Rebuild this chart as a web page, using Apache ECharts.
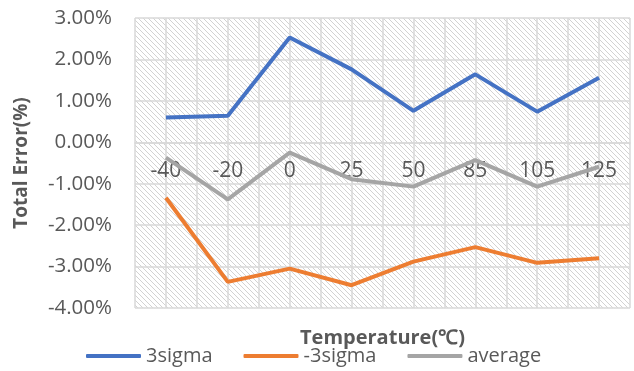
<!DOCTYPE html>
<html>
<head>
<meta charset="utf-8">
<script src="https://cdn.jsdelivr.net/npm/echarts@6/dist/echarts.min.js"></script>
<style>
  html, body { margin: 0; padding: 0; background: #ffffff; }
  #chart { width: 634px; height: 371px; }
</style>
</head>
<body>
<div id="chart"></div>
<script>
// Temperature points (°C)
const temperatures = ['-40', '-20', '0', '25', '50', '85', '105', '125'];
// Total error, in percent
const sigmaPlus  = [0.60, 0.64, 2.53, 1.76, 0.76, 1.64, 0.74, 1.56];
const sigmaMinus = [-1.34, -3.37, -3.05, -3.45, -2.88, -2.53, -2.91, -2.80];
const average    = [-0.37, -1.38, -0.25, -0.89, -1.07, -0.43, -1.07, -0.59];
const seriesNames = ['3sigma', '-3sigma', 'average'];
const yMin = -4, yMax = 3;

// Light downward-diagonal fill for the plot area
function hatchPattern() {
  const size = 5;
  const c = document.createElement('canvas');
  c.width = size; c.height = size;
  const ctx = c.getContext('2d');
  ctx.fillStyle = '#ffffff';
  ctx.fillRect(0, 0, size, size);
  ctx.fillStyle = '#d2d2d2';
  for (let i = 0; i < size; i++) ctx.fillRect(i, i, 1, 1);
  return { image: c, repeat: 'repeat' };
}

const font = '"Open Sans", "Liberation Sans", sans-serif';
const textColor = '#595959';
const gridColor = '#d9d9d9';

const chart = echarts.init(document.getElementById('chart'), null, { renderer: 'canvas' });
chart.setOption({
  animation: false,
  backgroundColor: '#ffffff',
  textStyle: { fontFamily: font },
  grid: {
    left: 135, right: 4, top: 18, bottom: 63,
    show: true, backgroundColor: hatchPattern(), borderWidth: 0
  },
  legend: {
    data: seriesNames,
    bottom: 0,
    left: 81,
    icon: 'roundRect',
    itemWidth: 55,
    itemHeight: 4,
    itemGap: 31,
    textStyle: { fontSize: 20, color: textColor, fontFamily: font }
  },
  xAxis: [
    {
      // temperature labels, sitting on the 0% line
      type: 'category',
      data: temperatures,
      boundaryGap: true,
      position: 'bottom',
      z: 1,
      axisLine: { onZero: false, lineStyle: { color: gridColor, width: 1.5 } },
      axisTick: { show: false },
      splitLine: { show: false },
      axisLabel: { color: textColor, fontSize: 21, margin: 18, fontFamily: font }
    },
    {
      // half-category grid lines and the x title
      type: 'value',
      position: 'bottom',
      min: 0, max: 16, interval: 1,
      axisLine: { show: false, onZero: false },
      axisTick: { show: false },
      axisLabel: { show: false },
      splitLine: { show: true, lineStyle: { color: gridColor, width: 1.5 } },
      name: 'Temperature(℃)',
      nameLocation: 'middle',
      nameGap: 20,
      nameTextStyle: { fontSize: 20, fontWeight: 'bold', color: textColor, fontFamily: font }
    }
  ],
  yAxis: {
    type: 'value',
    min: yMin, max: yMax, interval: 1,
    axisLine: { show: false, onZero: false },
    axisTick: { show: false },
    splitLine: { show: true, lineStyle: { color: gridColor, width: 1.5 } },
    axisLabel: {
      color: textColor, fontSize: 20.5, margin: 23, fontFamily: font,
      formatter: v => v.toFixed(2) + '%'
    },
    name: 'Total Error(%)',
    nameLocation: 'middle',
    nameGap: 104,
    nameRotate: 90,
    nameTextStyle: { fontSize: 19, fontWeight: 'bold', color: textColor, fontFamily: font }
  },
  series: [
    { name: seriesNames[0], type: 'line', data: sigmaPlus, xAxisIndex: 0, z: 3,
      symbol: 'none', color: '#4472C4', lineStyle: { width: 4, color: '#4472C4' } },
    { name: seriesNames[1], type: 'line', data: sigmaMinus, xAxisIndex: 0, z: 3,
      symbol: 'none', color: '#ED7D31', lineStyle: { width: 4, color: '#ED7D31' } },
    { name: seriesNames[2], type: 'line', data: average, xAxisIndex: 0, z: 3,
      symbol: 'none', color: '#A5A5A5', lineStyle: { width: 4, color: '#A5A5A5' } }
  ]
});

// Lift the temperature axis from the plot bottom up to the 0% line
const zeroY = chart.convertToPixel({ yAxisIndex: 0 }, 0);
const bottomY = chart.convertToPixel({ yAxisIndex: 0 }, yMin);
chart.setOption({ xAxis: [{ offset: -(bottomY - zeroY) }, {}] });
</script>
</body>
</html>
